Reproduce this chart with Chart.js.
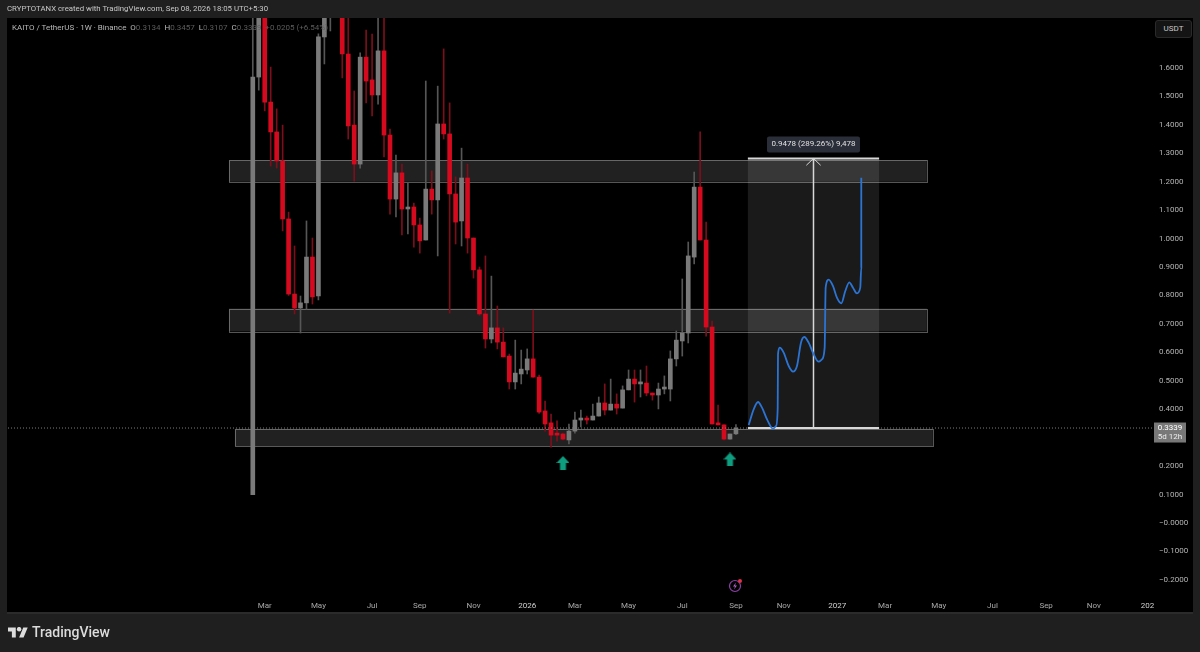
<!DOCTYPE html>
<html>
<head>
<meta charset="utf-8">
<title>KAITO / TetherUS</title>
<script src="https://cdn.jsdelivr.net/npm/chart.js@4/dist/chart.umd.min.js"></script>
<style>
  html, body { margin: 0; padding: 0; background: #1f1f1f; }
  #wrap { position: relative; width: 1200px; height: 652px; overflow: hidden; font-family: Roboto, sans-serif; }
  canvas { position: absolute; left: 0; top: 0; }
  .txt { position: absolute; white-space: nowrap; }
  #head { left: 7px; top: 3px; font-size: 7.8px; line-height: 12px; color: #c8c8c8; }
  #legend { left: 12px; top: 22px; font-size: 8px; line-height: 11px; color: #b8b8b8; }
  #legend i { font-style: normal; color: #5c5c5c; }
  #usdt { left: 1155px; top: 20px; width: 35px; height: 16px; line-height: 16px; text-align: center; font-size: 8px; color: #c8c8c8; background: #141414; border: 1px solid #2a2a2a; border-radius: 3px; }
  #brand { left: 32px; top: 623px; font-size: 14px; line-height: 18px; font-weight: 500; color: #dcdcdc; }
  #logo { position: absolute; left: 8px; top: 627px; }
  #bolt { position: absolute; left: 727px; top: 578px; }
</style>
</head>
<body>
<div id="wrap">
  <canvas id="chart" width="1200" height="652"></canvas>
  <div class="txt" id="head">CRYPTOTANX created with TradingView.com, Sep 08, 2026 18:05 UTC+5:30</div>
  <div class="txt" id="legend">KAITO / TetherUS · 1W · Binance &nbsp;O<i>0.3134</i> &nbsp;H<i>0.3457</i> &nbsp;L<i>0.3107</i> &nbsp;C<i>0.3339</i> &nbsp;<i>+0.0205 (+6.54%)</i></div>
  <div class="txt" id="usdt">USDT</div>
  <svg id="logo" width="20" height="11" viewBox="0 4 36 18"><path fill="#dcdcdc" d="M14 22H7V11H0V4h14v18zM28 22h-8l7.5-18h8L28 22z"/><circle fill="#dcdcdc" cx="20" cy="7" r="4"/></svg>
  <div class="txt" id="brand">TradingView</div>
  <svg id="bolt" width="18" height="16" viewBox="0 0 18 16"><circle cx="8" cy="8" r="5.5" fill="none" stroke="#8e3fa8" stroke-width="1.2"/><path d="M9 4.5 6 8.5h2l-1 3 3-4H8z" fill="#b060c8"/><circle cx="13" cy="3" r="2" fill="#e0304a"/></svg>
</div>
<script>
// weekly candles (the ones above the pane are guesses)
const opens = [0.10,1.568,1.95,1.48,1.375,1.273,1.069,0.805,0.756,0.774,0.935,0.798,1.709,2.0,2.2,2.1,1.649,1.399,1.262,1.638,1.558,1.505,1.66,1.364,1.139,1.231,1.104,1.111,1.048,0.995,1.174,1.136,1.403,1.368,1.157,1.062,1.213,1.002,0.89,0.735,0.647,0.686,0.636,0.587,0.496,0.524,0.538,0.577,0.513,0.394,0.352,0.313,0.313,0.292,0.323,0.362,0.369,0.362,0.376,0.422,0.397,0.418,0.404,0.468,0.506,0.489,0.492,0.457,0.45,0.471,0.471,0.577,0.64,0.668,0.935,1.181,0.995,0.689,0.352,0.345,0.295,0.3134];
const highs = [1.85,2.2,2.0,1.603,1.456,1.399,1.093,0.974,0.798,1.062,1.002,1.72,2.1,2.4,2.3,2.2,1.85,1.519,1.653,1.733,1.719,1.85,1.85,1.385,1.294,1.262,1.195,1.125,1.072,1.554,1.238,1.536,1.667,1.477,1.217,1.318,1.262,1.002,0.9,0.939,0.868,0.763,0.686,0.594,0.643,0.608,0.612,0.749,0.52,0.429,0.383,0.359,0.316,0.348,0.39,0.397,0.376,0.418,0.443,0.489,0.506,0.454,0.482,0.538,0.538,0.538,0.552,0.457,0.492,0.517,0.605,0.675,0.858,0.988,1.234,1.375,1.058,0.71,0.415,0.345,0.313,0.3457];
const lows = [0.10,1.522,1.449,1.255,1.248,1.027,0.80,0.735,0.668,0.752,0.77,0.784,1.614,1.73,1.9,1.565,1.35,1.202,1.248,1.477,1.431,1.473,1.287,1.086,1.076,1.013,1.016,0.97,0.949,0.995,1.086,0.939,1.35,0.738,0.981,0.974,0.949,0.861,0.73,0.615,0.633,0.612,0.584,0.471,0.471,0.489,0.524,0.513,0.385,0.323,0.267,0.288,0.292,0.278,0.316,0.338,0.348,0.362,0.376,0.38,0.397,0.383,0.404,0.468,0.425,0.443,0.447,0.432,0.401,0.454,0.429,0.552,0.587,0.633,0.911,0.995,0.657,0.348,0.345,0.292,0.295,0.3107];
const closes = [1.568,1.95,1.48,1.375,1.273,1.069,0.805,0.756,0.774,0.935,0.795,1.709,2.0,2.1,2.1,1.649,1.396,1.262,1.638,1.554,1.505,1.66,1.364,1.139,1.231,1.104,1.108,1.048,0.992,1.174,1.136,1.403,1.368,1.157,1.058,1.213,1.002,0.89,0.735,0.647,0.686,0.636,0.584,0.496,0.527,0.541,0.577,0.513,0.39,0.348,0.309,0.309,0.295,0.323,0.362,0.366,0.362,0.376,0.422,0.397,0.418,0.404,0.468,0.506,0.489,0.492,0.457,0.45,0.471,0.475,0.577,0.643,0.668,0.939,1.181,0.995,0.689,0.348,0.345,0.295,0.313,0.3339];

// hand drawn projection (week number, price)
const pathWeeks = [83.14,83.97,84.70,85.37,86.21,87.21,87.72,88.0,88.05,88.33,89.0,89.84,90.56,91.23,91.9,92.46,93.19,94.03,94.86,95.42,95.87,96.04,96.54,97.26,97.93,98.66,99.33,100,100.62,101.28,101.84,102.01,102.01];
const pathPrices = [0.3446,0.3997,0.4254,0.4055,0.3645,0.3317,0.3411,0.4055,0.593,0.6165,0.5989,0.552,0.5321,0.552,0.634,0.654,0.634,0.593,0.5672,0.5755,0.6165,0.8274,0.8555,0.8333,0.7923,0.7724,0.8157,0.8462,0.8274,0.8075,0.8274,0.8977,1.2142];

// support / resistance boxes: [week from, week to, price low, price high]
const zones = [
  [-4, 113, 1.2, 1.276],
  [-4, 113, 0.674, 0.754],
  [-3, 114, 0.27, 0.331]
];

// measure tool
const measureWeeks = [83, 105];
const measureMid = 94;
const measureLow = 0.3339;
const measureHigh = 1.2817;
const measureLabel = '0.9478 (289.26%) 9,478';

const lastPrice = 0.3339;
const lastTag = ['0.3339', '5d 12h'];
const greenArrowWeeks = [52, 80];
const greenArrowPrices = [0.211, 0.2233];

const xTickWeeks = [2,11,20,28,37,46,54,63,72,81,89,98,106,115,124,133,141,150];
const xTickLabels = ['Mar','May','Jul','Sep','Nov','2026','Mar','May','Jul','Sep','Nov','2027','Mar','May','Jul','Sep','Nov','202'];
const yTickValues = [1.6,1.5,1.4,1.3,1.2,1.1,1.0,0.9,0.8,0.7,0.6,0.5,0.4,0.2,0.1,0,-0.1,-0.2];

const RED = '#d60a1e', GREY = '#7a7a7a', RED_WICK = '#7d0f1b', GREY_WICK = '#565656';
const isUp = i => closes[i] >= opens[i];

// fat green arrow used as the point style
const arrowImg = document.createElement('canvas');
arrowImg.width = 13; arrowImg.height = 14;
(function () {
    const c = arrowImg.getContext('2d');
    c.fillStyle = '#0f9d80';
    c.beginPath();
    c.moveTo(6.5, 0); c.lineTo(13, 7); c.lineTo(9.5, 7); c.lineTo(9.5, 14);
    c.lineTo(3.5, 14); c.lineTo(3.5, 7); c.lineTo(0, 7);
    c.closePath(); c.fill();
})();

const panePlugin = {
    id: 'pane',
    beforeDraw(chart) {
        const c = chart.ctx;
        c.save();
        c.fillStyle = '#1f1f1f';
        c.fillRect(0, 0, 1200, 652);
        c.fillStyle = '#000';
        c.fillRect(7, 18, 1186, 594);
        c.fillStyle = '#2b2b2b';
        c.fillRect(7, 612, 1186, 2);
        c.restore();
    },
    beforeDatasetsDraw(chart) {
        const c = chart.ctx, x = chart.scales.x, y = chart.scales.y;
        c.save();
        zones.forEach(z => {
            const l = x.getPixelForValue(z[0]), r = x.getPixelForValue(z[1]);
            const t = y.getPixelForValue(z[3]), b = y.getPixelForValue(z[2]);
            c.fillStyle = 'rgba(255,255,255,0.13)';
            c.fillRect(l, t, r - l, b - t);
            c.strokeStyle = 'rgba(205,205,205,0.42)';
            c.lineWidth = 1;
            c.strokeRect(Math.round(l) + 0.5, Math.round(t) + 0.5, Math.round(r - l), Math.round(b - t));
        });
        // measure box
        const l = x.getPixelForValue(measureWeeks[0]), r = x.getPixelForValue(measureWeeks[1]);
        const t = y.getPixelForValue(measureHigh), b = y.getPixelForValue(measureLow);
        c.fillStyle = 'rgba(255,255,255,0.1)';
        c.fillRect(l, t, r - l, b - t);
        c.restore();
    },
    afterDraw(chart) {
        const c = chart.ctx, x = chart.scales.x, y = chart.scales.y;
        c.save();
        // measure label
        const mx = x.getPixelForValue(measureMid), my = y.getPixelForValue(measureHigh);
        c.fillStyle = '#2a2e39';
        c.beginPath();
        c.roundRect(mx - 46.5, my - 22, 93, 16, 2);
        c.fill();
        c.fillStyle = '#e0e0e0';
        c.font = '8px Roboto, sans-serif';
        c.textAlign = 'center';
        c.textBaseline = 'middle';
        c.fillText(measureLabel, mx, my - 14);
        // last price tag on the axis
        const py = y.getPixelForValue(lastPrice);
        c.fillStyle = '#787878';
        c.fillRect(1154, py - 5.5, 32, 20);
        c.fillStyle = '#fff';
        c.font = '8px Roboto, sans-serif';
        c.fillText(lastTag[0], 1170, py);
        c.fillStyle = '#eee';
        c.fillText(lastTag[1], 1170, py + 9);
        c.restore();
    }
};

const ctx = document.getElementById('chart').getContext('2d');
const weeks = opens.map((_, i) => i);

new Chart(ctx, {
    type: 'bar',
    plugins: [panePlugin],
    data: {
        datasets: [
            {
                label: 'wicks',
                data: weeks.map(i => ({ x: i, y: [lows[i], highs[i]] })),
                backgroundColor: weeks.map(i => isUp(i) ? GREY_WICK : RED_WICK),
                barThickness: 1,
                grouped: false,
                order: 6
            },
            {
                label: 'bodies',
                data: weeks.map(i => ({ x: i, y: [opens[i], closes[i]] })),
                backgroundColor: weeks.map(i => isUp(i) ? GREY : RED),
                barThickness: 4,
                minBarLength: 2,
                grouped: false,
                order: 5
            },
            {
                type: 'line',
                label: 'last price',
                data: [{ x: -41.04, y: lastPrice }, { x: 150.75, y: lastPrice }],
                borderColor: '#7c7c7c',
                borderWidth: 1,
                borderDash: [1, 2],
                pointRadius: 0,
                order: 4
            },
            {
                type: 'line',
                label: 'measure top',
                data: [{ x: measureWeeks[0], y: measureHigh }, { x: measureWeeks[1], y: measureHigh }],
                borderColor: '#d8d8d8',
                borderWidth: 2,
                pointRadius: 0,
                order: 3
            },
            {
                type: 'line',
                label: 'measure bottom',
                data: [{ x: measureWeeks[0], y: measureLow }, { x: measureWeeks[1], y: measureLow }],
                borderColor: '#d8d8d8',
                borderWidth: 2,
                pointRadius: 0,
                order: 3
            },
            {
                type: 'line',
                label: 'measure arrow',
                data: [{ x: measureMid, y: measureLow }, { x: measureMid, y: measureHigh }],
                borderColor: '#d8d8d8',
                borderWidth: 1.5,
                pointRadius: 0,
                order: 3
            },
            {
                type: 'line',
                label: 'measure head',
                data: [{ x: measureMid - 1.2, y: measureHigh - 0.024 }, { x: measureMid, y: measureHigh }, { x: measureMid + 1.2, y: measureHigh - 0.024 }],
                borderColor: '#d8d8d8',
                borderWidth: 1,
                pointRadius: 0,
                order: 3
            },
            {
                type: 'line',
                label: 'projection',
                data: pathWeeks.map((w, i) => ({ x: w, y: pathPrices[i] })),
                borderColor: '#2b74d4',
                borderWidth: 1.8,
                cubicInterpolationMode: 'monotone',
                pointRadius: 0,
                order: 2
            },
            {
                type: 'scatter',
                label: 'arrows',
                data: greenArrowWeeks.map((w, i) => ({ x: w, y: greenArrowPrices[i] })),
                pointStyle: arrowImg,
                pointRadius: 7,
                order: 1
            }
        ]
    },
    options: {
        responsive: false,
        animation: false,
        events: [],
        layout: { padding: { top: 18, left: 7, right: 7, bottom: 39 } },
        plugins: { legend: { display: false }, tooltip: { enabled: false } },
        scales: {
            x: {
                type: 'linear',
                offset: false,
                min: -41.04,
                max: 150.75,
                grid: { display: false, drawTicks: false },
                border: { display: false },
                afterBuildTicks(axis) { axis.ticks = xTickWeeks.map(v => ({ value: v })); },
                afterFit(axis) { axis.height = 18; },
                ticks: {
                    color: ctx => /^20/.test(xTickLabels[xTickWeeks.indexOf(ctx.tick.value)]) ? '#d0d0d0' : '#a8a8a8',
                    font: { size: 8, family: 'Roboto, sans-serif' },
                    maxRotation: 0,
                    autoSkip: false,
                    padding: 6,
                    callback: v => xTickLabels[xTickWeeks.indexOf(v)]
                }
            },
            y: {
                type: 'linear',
                position: 'right',
                min: -0.2532,
                max: 1.7756,
                grid: { display: false, drawTicks: false },
                border: { display: false },
                afterBuildTicks(axis) { axis.ticks = yTickValues.map(v => ({ value: v })); },
                afterFit(axis) { axis.width = 41; },
                ticks: {
                    color: '#b4b4b4',
                    font: { size: 8, family: 'Roboto, sans-serif' },
                    padding: 7,
                    callback: v => v === 0 ? '\u22120.0000' : (v < 0 ? '\u2212' : '') + Math.abs(v).toFixed(4)
                }
            }
        }
    }
});
</script>
</body>
</html>
